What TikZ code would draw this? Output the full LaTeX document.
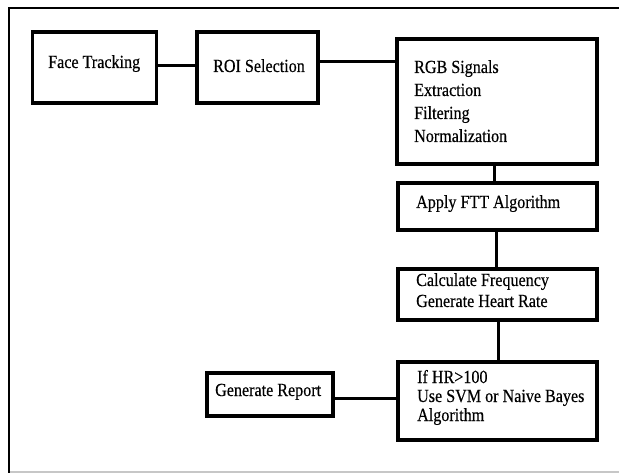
\documentclass[tikz,border=0pt]{standalone}
\usepackage{fontspec}
\setmainfont[FakeStretch=0.87,FakeBold=0.4]{Liberation Serif}
\begin{document}
\begin{tikzpicture}[x=1bp,y=-1bp,
  box/.style={draw=black,line width=3.5bp,rectangle,inner sep=0pt},
  txt/.style={anchor=base west,inner sep=0pt,font=\fontsize{18.5bp}{21bp}\selectfont},
  conn/.style={draw=black,line width=3bp},
  frame/.style={draw=black,line width=2.8bp}]
\useasboundingbox (0,0) rectangle (619,473);
% outer frame
\coordinate (fTR) at (619,8);
\coordinate (fTL) at (9,8);
\coordinate (fBL) at (9,473);
\coordinate (gL) at (10,472);
\coordinate (gR) at (619,472);
\draw[frame] (fTR) -- (fTL) -- (fBL);
\draw[draw=black!22,line width=1.2bp] (gL) -- (gR);
% boxes
\node[box,minimum width=124bp,minimum height=71bp] (ft) at (94.5,67.5) {};
\node[box,minimum width=121bp,minimum height=71bp] (roi) at (257.5,67.5) {};
\node[box,minimum width=200bp,minimum height=125bp] (rgb) at (497,101.5) {};
\node[box,minimum width=199bp,minimum height=47bp] (fft) at (497.5,206.5) {};
\node[box,minimum width=199bp,minimum height=51bp] (calc) at (497.5,294.5) {};
\node[box,minimum width=199bp,minimum height=78bp] (hr) at (497.5,401) {};
\node[box,minimum width=126bp,minimum height=43bp] (rep) at (270,394.5) {};
% texts
\node[txt] (ftt) at (48,68) {Face Tracking};
\node[txt] (roit) at (213,72) {ROI Selection};
\node[txt] (rgb1) at (414,73) {RGB Signals};
\node[txt] (rgb2) at (414,96) {Extraction};
\node[txt] (rgb3) at (414,119) {Filtering};
\node[txt] (rgb4) at (414,142) {Normalization};
\node[txt] (fftt) at (416,208) {Apply FTT Algorithm};
\node[txt] (calc1) at (416,286) {Calculate Frequency};
\node[txt] (calc2) at (416,307) {Generate Heart Rate};
\node[txt] (hr1) at (417,383) {If HR>100};
\node[txt] (hr2) at (417,402) {Use SVM or Naive Bayes};
\node[txt] (hr3) at (417,421) {Algorithm};
\node[txt] (rept) at (215,396) {Generate Report};
% connectors
\draw[conn] (ft.east |- 0,66) -- (roi.west |- 0,66);
\draw[conn] (roi.east |- 0,62) -- (rgb.west |- 0,62);
\draw[conn] (rgb.south -| 494,0) -- (fft.north -| 494,0);
\draw[conn] (fft.south -| 496,0) -- (calc.north -| 496,0);
\draw[conn] (calc.south -| 498,0) -- (hr.north -| 498,0);
\draw[conn] (rep.east |- 0,398) -- (hr.west |- 0,398);
\end{tikzpicture}
\end{document}
